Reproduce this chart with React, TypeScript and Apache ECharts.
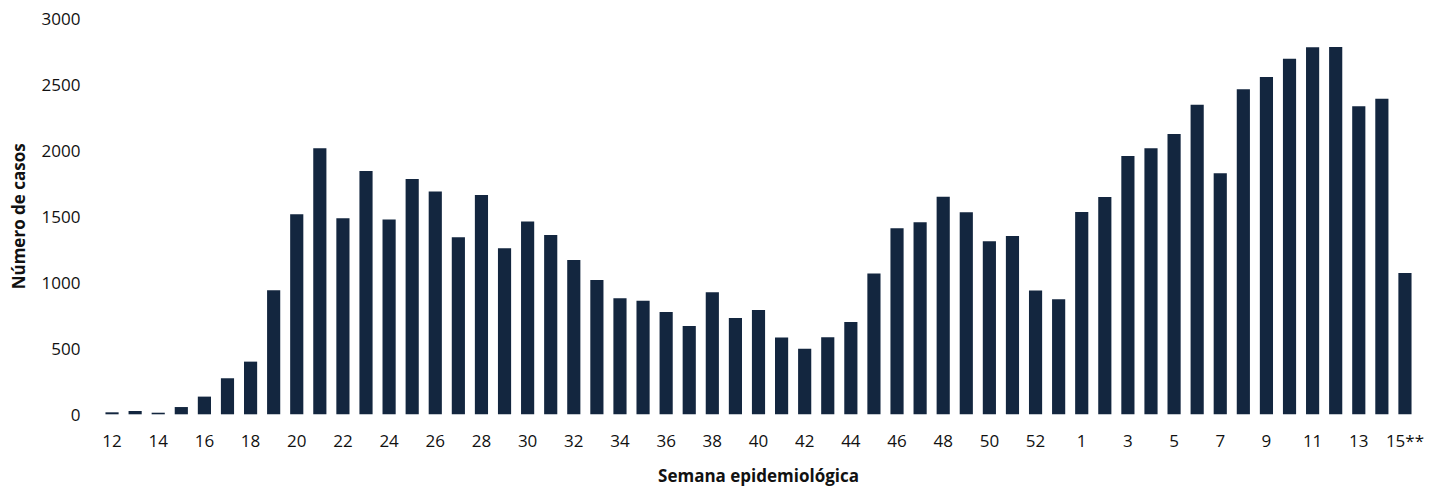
import React, { useEffect, useRef } from "react";
import * as echarts from "echarts";

const weeks: string[] = [
  "12", "13", "14", "15", "16", "17", "18", "19", "20", "21", "22", "23", "24", "25", "26", "27", "28", "29", "30", "31",
  "32", "33", "34", "35", "36", "37", "38", "39", "40", "41", "42", "43", "44", "45", "46", "47", "48", "49", "50", "51",
  "52", "53", "1", "2", "3", "4", "5", "6", "7", "8", "9", "10", "11", "12", "13", "14", "15**",
];

const cases: number[] = [
  15, 25, 12, 55, 134, 273, 399, 939, 1515, 2015, 1485, 1843, 1475, 1783, 1687, 1341, 1662, 1258, 1460, 1359,
  1169, 1018, 879, 861, 775, 669, 924, 730, 790, 581, 497, 583, 699, 1066, 1409, 1455, 1649, 1530, 1311, 1351,
  937, 871, 1533, 1646, 1957, 2015, 2124, 2346, 1826, 2462, 2556, 2694, 2780, 2783, 2333, 2391, 1071,
];

const yTitle = "Número de casos";
const xTitle = "Semana epidemiológica";

export default function App() {
  const ref = useRef<HTMLDivElement>(null);
  useEffect(() => {
    if (!ref.current) return;
    const chart = echarts.init(ref.current, undefined, { renderer: "svg" });
    const font = "'Open Sans', Lato, sans-serif";
    chart.setOption({
      animation: false,
      textStyle: { fontFamily: font },
      grid: {
        left: 100.5,
        right: 23.5,
        top: 18.3,
        bottom: 71.7,
        containLabel: false,
        outerBoundsMode: "none",
      },
      xAxis: {
        type: "category",
        data: weeks,
        name: xTitle,
        nameLocation: "middle",
        nameGap: 53,
        nameTextStyle: { fontFamily: font, fontWeight: "bold", fontSize: 17, color: "#111" },
        axisLine: { show: false },
        axisTick: { show: false },
        axisLabel: { interval: 1, fontFamily: font, fontSize: 17, color: "#111", margin: 18 },
      },
      yAxis: {
        type: "value",
        min: 0,
        max: 3000,
        interval: 500,
        name: yTitle,
        nameLocation: "middle",
        nameGap: 74,
        nameRotate: 90,
        nameTextStyle: { fontFamily: font, fontWeight: "bold", fontSize: 17, color: "#111" },
        splitLine: { show: false },
        axisLine: { show: false },
        axisTick: { show: false },
        axisLabel: {
          fontFamily: font,
          fontSize: 17,
          color: "#111",
          margin: 20,
          formatter: (v: number) => String(v),
        },
      },
      series: [
        {
          type: "bar",
          data: cases,
          barCategoryGap: "43%",
          itemStyle: { color: "#13263F" },
        },
      ],
    });
    return () => chart.dispose();
  }, []);
  return (
    <div
      ref={ref}
      style={{ position: "fixed", left: 0, top: 0, width: 1440, height: 486, background: "#fff" }}
    />
  );
}
